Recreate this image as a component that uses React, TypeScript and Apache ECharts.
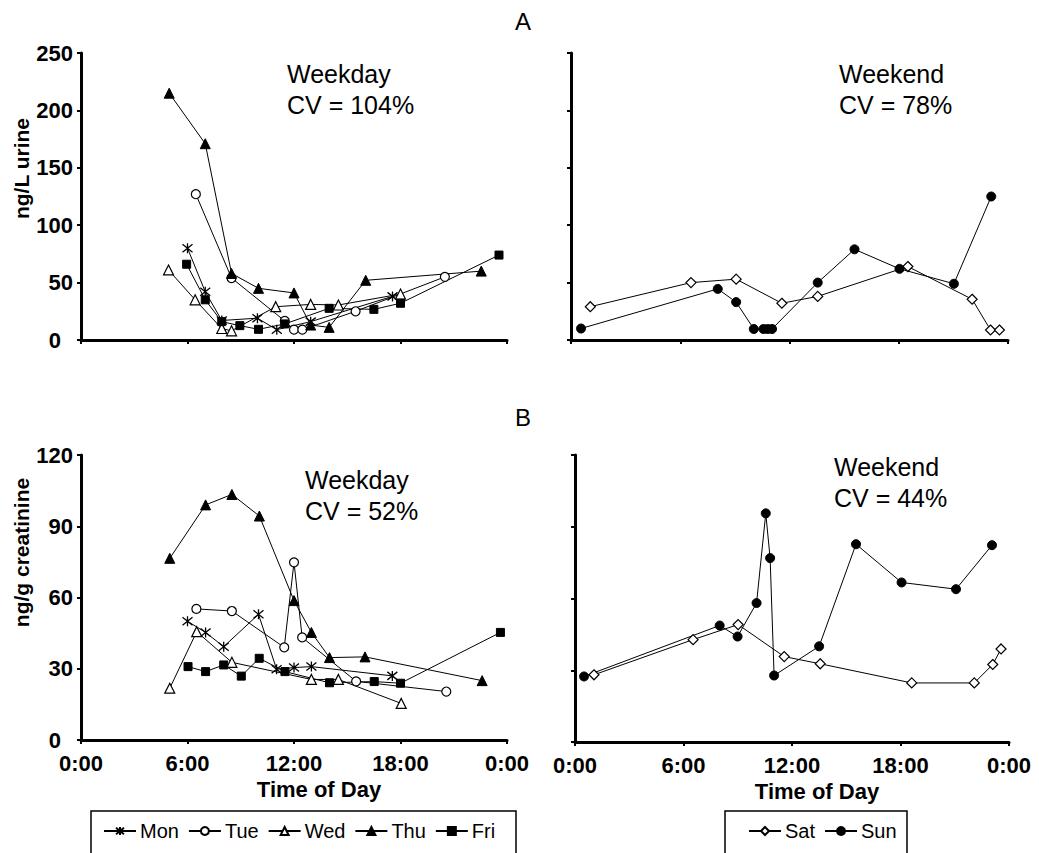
import React, { useEffect, useRef } from "react";
import * as echarts from "echarts";

// Time of day (hours) and concentration pairs, panel A: ng/L urine
const monUrine = [[6.0, 80], [7.0, 42], [7.93, 17], [9.94, 19], [11.03, 9], [12.94, 16], [17.55, 38]];
const tueUrine = [[6.47, 127], [8.48, 54], [11.48, 16.6], [12.0, 9], [12.47, 9], [15.47, 25], [20.5, 55]];
const wedUrine = [[4.93, 61], [6.43, 35], [7.93, 10], [8.48, 8], [10.97, 29], [12.94, 31], [14.5, 30.5], [18.0, 40]];
const thuUrine = [[4.97, 215], [7.0, 171], [8.48, 58], [10.0, 45], [12.0, 41], [12.94, 13], [13.98, 11], [16.04, 52], [22.55, 60]];
const friUrine = [[5.95, 66], [7.0, 35], [7.93, 16], [8.95, 12.5], [10.0, 9.3], [11.48, 14], [13.98, 27.6], [16.5, 26.7], [18.0, 32], [23.55, 74]];
const satUrine = [[1.06, 29], [6.59, 50], [9.07, 53], [11.58, 32], [13.55, 38], [18.5, 64], [22.03, 35.5], [23.04, 8.7], [23.53, 8.7]];
const sunUrine = [[0.55, 10], [8.06, 44.5], [9.07, 33], [10.04, 9.6], [10.57, 9.6], [10.8, 9.6], [11.04, 9.6], [13.55, 50], [15.57, 79], [18.04, 62], [21.03, 49], [23.08, 125]];

// Panel B: ng/g creatinine
const monCreat = [[6.0, 50], [7.02, 45.3], [8.04, 39.3], [10.0, 52.9], [11.02, 29.8], [12.0, 30.5], [12.98, 30.9], [17.54, 27]];
const tueCreat = [[6.5, 55.2], [8.5, 54.3], [11.45, 39], [12.0, 74.8], [12.46, 43.2], [15.5, 24.7], [20.58, 20.4]];
const wedCreat = [[5.0, 21.8], [6.52, 45.6], [8.5, 32.7], [12.98, 25.5], [14.5, 25.5], [18.04, 15.4]];
const thuCreat = [[5.0, 76.5], [7.02, 99], [8.5, 103.4], [10.05, 94.3], [12.0, 58.7], [12.98, 45.3], [14.0, 34.7], [16.0, 35], [22.6, 25]];
const friCreat = [[6.03, 30.9], [7.02, 28.8], [8.04, 31.6], [9.03, 26.9], [10.04, 34.4], [11.49, 28.8], [14.0, 24.1], [16.52, 24.6], [18.0, 23.9], [23.63, 45.3]];
const satCreat = [[1.05, 28.1], [6.53, 42.8], [9.02, 49.1], [11.57, 35.7], [13.56, 32.7], [18.62, 24.7], [22.08, 24.7], [23.1, 32.4], [23.56, 38.9]];
const sunCreat = [[0.5, 27.4], [8.0, 48.7], [8.99, 44.1], [10.04, 58.1], [10.55, 95.6], [10.79, 76.9], [11.01, 27.8], [13.5, 40], [15.54, 82.7], [18.06, 66.7], [21.07, 63.9], [23.06, 82.3]];

const weekdayNames = ["Mon", "Tue", "Wed", "Thu", "Fri"];
const weekendNames = ["Sat", "Sun"];
const hourTicks = [0, 6, 12, 18, 24];
const urineRange = { min: 0, max: 250, step: 50 };
const creatRange = { min: 0, max: 120, step: 30 };

const FONT = "'Liberation Sans', Arial, Helvetica, sans-serif";
const asterisk = "path://M1,1L9,9M9,1L1,9M5,0L5,10";

const markerStyles: Record<string, any> = {
  Mon: { symbol: asterisk, symbolSize: 10, itemStyle: { color: "#000", borderColor: "#000", borderWidth: 1.3 } },
  Tue: { symbol: "circle", symbolSize: 9, itemStyle: { color: "#fff", borderColor: "#000", borderWidth: 1.2 } },
  Wed: { symbol: "triangle", symbolSize: 10, itemStyle: { color: "#fff", borderColor: "#000", borderWidth: 1.2 } },
  Thu: { symbol: "triangle", symbolSize: 10, itemStyle: { color: "#000", borderColor: "#000", borderWidth: 1 } },
  Fri: { symbol: "rect", symbolSize: 8, itemStyle: { color: "#000", borderColor: "#000", borderWidth: 1 } },
  Sat: { symbol: "diamond", symbolSize: 10, itemStyle: { color: "#fff", borderColor: "#000", borderWidth: 1.2 } },
  Sun: { symbol: "circle", symbolSize: 9, itemStyle: { color: "#000", borderColor: "#000", borderWidth: 1 } },
};

function lineSeries(name: string, data: number[][], axisIndex: number) {
  return {
    type: "line",
    name,
    data,
    xAxisIndex: axisIndex,
    yAxisIndex: axisIndex,
    showSymbol: true,
    lineStyle: { color: "#000", width: 1 },
    emphasis: { disabled: true },
    ...markerStyles[name],
  };
}

function xAxis(gridIndex: number, showLabels: boolean) {
  return {
    type: "value",
    gridIndex,
    min: hourTicks[0],
    max: hourTicks[hourTicks.length - 1],
    interval: 6,
    name: showLabels ? "Time of Day" : "",
    nameLocation: "middle",
    nameGap: 38,
    nameTextStyle: { fontFamily: FONT, fontWeight: "bold", fontSize: 22, color: "#000", padding: [0, 0, 0, 50] },
    axisLine: { show: true, lineStyle: { color: "#000", width: 3 } },
    axisTick: { show: true, inside: false, length: 4, lineStyle: { color: "#000", width: 2 } },
    axisLabel: {
      show: showLabels,
      margin: 12,
      fontFamily: FONT,
      fontWeight: "bold",
      fontSize: 22,
      color: "#000",
      formatter: (v: number) => `${v % 24}:00`,
    },
    splitLine: { show: false },
  };
}

function yAxis(gridIndex: number, range: { min: number; max: number; step: number }, name: string, namePad: number) {
  return {
    type: "value",
    gridIndex,
    min: range.min,
    max: range.max,
    interval: range.step,
    name,
    nameLocation: "middle",
    nameGap: 44,
    nameTextStyle: { fontFamily: FONT, fontWeight: "bold", fontSize: 21, color: "#000", padding: [0, 0, 0, namePad] },
    axisLine: { show: true, lineStyle: { color: "#000", width: 3 } },
    axisTick: { show: true, inside: false, length: 4, lineStyle: { color: "#000", width: 2 } },
    axisLabel: {
      show: name !== "",
      margin: 8,
      fontFamily: FONT,
      fontWeight: "bold",
      fontSize: 22,
      color: "#000",
      // the zero label sits a little left of the column, clear of the time labels
      formatter: (v: number) => (v === 0 ? "{z|0}" : String(v)),
      rich: { z: { fontFamily: FONT, fontWeight: "bold", fontSize: 22, color: "#000", padding: [0, 12, 0, 0] } },
    },
    splitLine: { show: false },
  };
}

function note(x: number, y: number, text: string) {
  return {
    type: "text",
    x,
    y,
    style: { text, fontFamily: FONT, fontSize: 25, lineHeight: 31, fill: "#000", verticalAlign: "top" },
  };
}

export default function App() {
  const ref = useRef<HTMLDivElement>(null);

  useEffect(() => {
    if (!ref.current) return;
    const chart = echarts.init(ref.current, undefined, { renderer: "svg" });

    const weekdayUrine = [monUrine, tueUrine, wedUrine, thuUrine, friUrine];
    const weekdayCreat = [monCreat, tueCreat, wedCreat, thuCreat, friCreat];

    const series: any[] = [];
    weekdayNames.forEach((n, i) => series.push(lineSeries(n, weekdayUrine[i], 0)));
    series.push(lineSeries("Sat", satUrine, 1));
    series.push(lineSeries("Sun", sunUrine, 1));
    weekdayNames.forEach((n, i) => series.push(lineSeries(n, weekdayCreat[i], 2)));
    series.push(lineSeries("Sat", satCreat, 3));
    series.push(lineSeries("Sun", sunCreat, 3));

    const legendBase = {
      orient: "horizontal",
      top: 821,
      itemWidth: 32,
      itemHeight: 10,
      itemGap: 9,
      padding: 0,
      selectedMode: false,
      textStyle: { fontFamily: FONT, fontSize: 20, color: "#000", padding: [0, 0, 0, -1] },
    };

    chart.setOption({
      animation: false,
      backgroundColor: "#fff",
      textStyle: { fontFamily: FONT },
      title: [
        { text: "A", left: 518, top: 4, textAlign: "center", textStyle: { fontFamily: FONT, fontWeight: "normal", fontSize: 24, color: "#000" } },
        { text: "B", left: 518, top: 400, textAlign: "center", textStyle: { fontFamily: FONT, fontWeight: "normal", fontSize: 24, color: "#000" } },
      ],
      grid: [
        { left: 81, top: 53, width: 426, height: 287 },
        { left: 571, top: 53, width: 437, height: 287 },
        { left: 81, top: 455, width: 426, height: 285 },
        { left: 575, top: 455, width: 434, height: 287 },
      ],
      xAxis: [xAxis(0, false), xAxis(1, false), xAxis(2, true), xAxis(3, true)],
      yAxis: [
        yAxis(0, urineRange, "ng/L urine", 56),
        yAxis(1, urineRange, "", 0),
        yAxis(2, creatRange, "ng/g creatinine", 90),
        yAxis(3, creatRange, "", 0),
      ],
      legend: [
        { ...legendBase, left: 103, data: weekdayNames },
        { ...legendBase, left: 748, data: weekendNames },
      ],
      graphic: [
        note(287, 58, "Weekday\nCV = 104%"),
        note(839, 58, "Weekend\nCV = 78%"),
        note(305, 464, "Weekday\nCV = 52%"),
        note(834, 451, "Weekend\nCV = 44%"),
        { type: "rect", shape: { x: 91, y: 811, width: 425, height: 60 }, style: { fill: "none", stroke: "#000", lineWidth: 1.5 } },
        { type: "rect", shape: { x: 725, y: 811, width: 182, height: 60 }, style: { fill: "none", stroke: "#000", lineWidth: 1.5 } },
      ],
      series,
    });

    return () => chart.dispose();
  }, []);

  return <div ref={ref} style={{ position: "absolute", left: 0, top: 0, width: 1039, height: 853 }} />;
}
